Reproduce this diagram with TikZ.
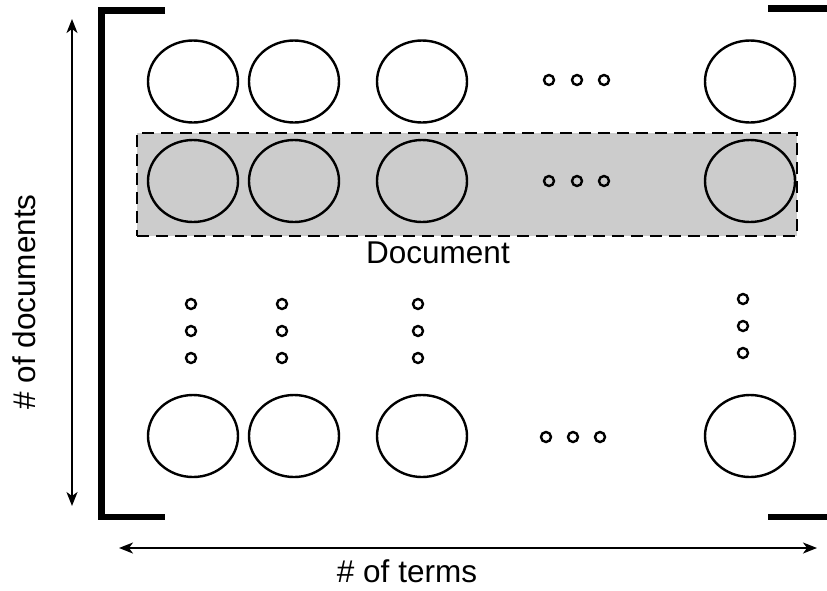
\documentclass[tikz,border=0pt]{standalone}
\usepackage{fontspec}
\setmainfont{Liberation Sans}
\usetikzlibrary{shapes.geometric,arrows.meta}
\begin{document}
\begin{tikzpicture}[x=1pt,y=-1pt,
  cell/.style={draw,ellipse,line width=2.4pt,minimum width=90pt,minimum height=82pt,inner sep=0pt},
  dotc/.style={draw,circle,line width=2.4pt,minimum size=10pt,inner sep=0pt},
  brack/.style={line width=6.5pt,line join=miter},
  dimarrow/.style={line width=1.6pt,{Stealth[length=14pt,width=11pt,inset=4pt]}-{Stealth[length=14pt,width=11pt,inset=4pt]}},
  lbl/.style={font=\fontsize{31.5}{38}\selectfont,inner sep=0pt}]
\useasboundingbox (0,0) rectangle (827,590);
% highlighted row
\node[draw,dashed,dash pattern=on 12pt off 7pt,line width=2pt,fill=black!20,inner sep=0pt,minimum width=660pt,minimum height=103pt] (doc) at (467,184.5) {};
% brackets
\draw[brack] (165,10.5) -- (101.5,10.5) -- (101.5,517) -- (165,517);
\draw[brack] (768,8.5) -- (827,8.5);
\draw[brack] (768,517) -- (827,517);
% cells
\foreach \x/\n in {193/1,294/2,422/3,750/4}{
  \node[cell] (a\n) at (\x,81.5) {};
  \node[cell] (b\n) at (\x,181) {};
  \node[cell] (c\n) at (\x,436) {};
}
% horizontal dots
\foreach \x/\n in {549/1,577/2,604/3}{
  \node[dotc] (ha\n) at (\x,80) {};
  \node[dotc] (hb\n) at (\x,181) {};
}
\foreach \x/\n in {546/1,573/2,600/3}{
  \node[dotc] (hc\n) at (\x,437) {};
}
% vertical dots
\foreach \x/\n in {191/1,282/2,418/3}{
  \node[dotc] (v\n a) at (\x,304) {};
  \node[dotc] (v\n b) at (\x,331) {};
  \node[dotc] (v\n c) at (\x,358) {};
}
\node[dotc] (v4a) at (743,299) {};
\node[dotc] (v4b) at (743,326) {};
\node[dotc] (v4c) at (743,353) {};
% labels
\node[lbl,anchor=base] (doclbl) at (438,263) {Document};
\node[lbl,anchor=base] (terms) at (407,582) {\# of terms};
\node[lbl,anchor=base,rotate=90] (docs) at (35,302) {\# of documents};
% arrows
\coordinate (vt) at (72,19);
\coordinate (vb) at (72,506);
\coordinate (hl) at (119,548);
\coordinate (hr) at (817,548);
\draw[dimarrow] (vb) -- (vt);
\draw[dimarrow] (hl) -- (hr);
\end{tikzpicture}
\end{document}
